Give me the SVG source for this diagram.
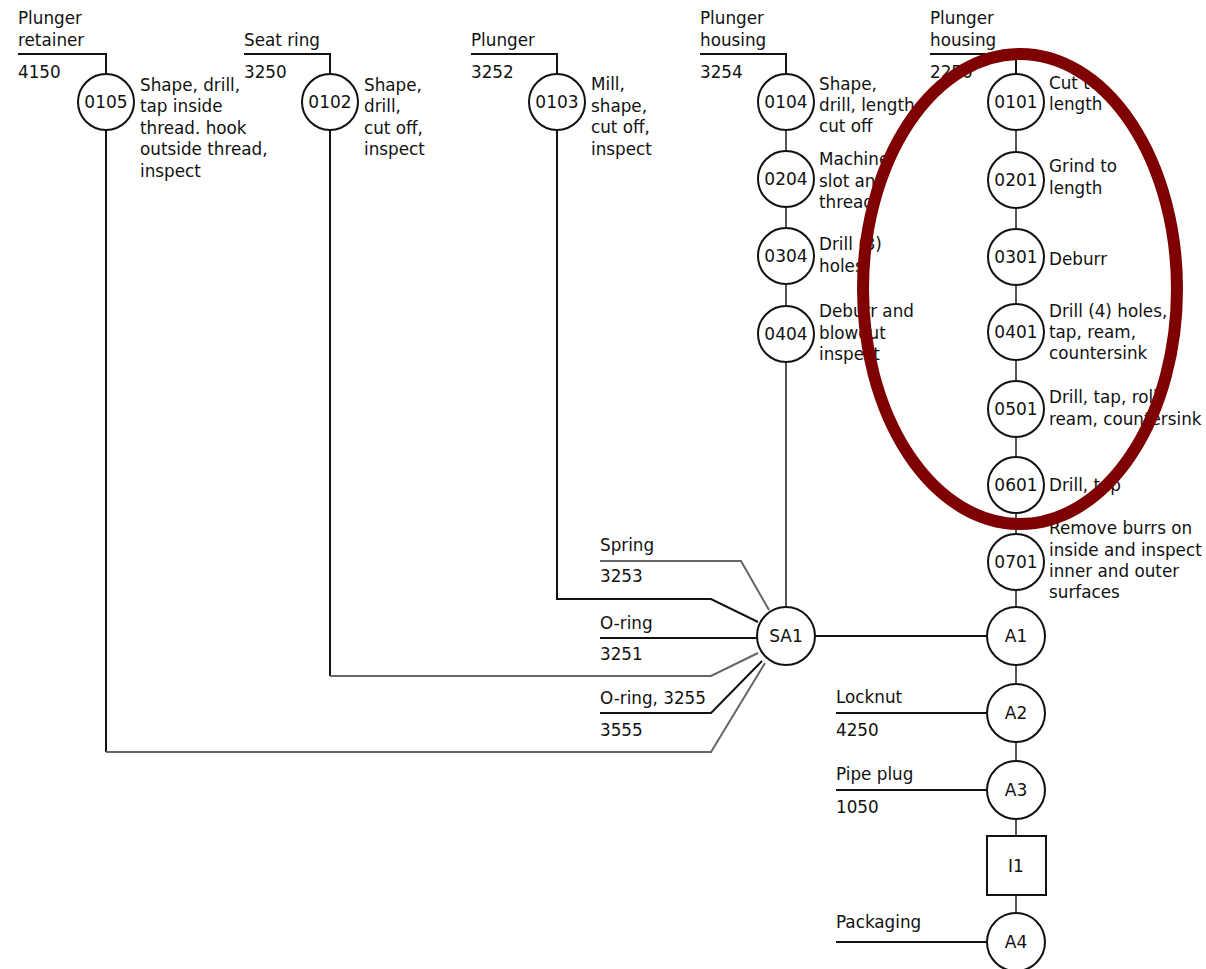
<svg xmlns="http://www.w3.org/2000/svg" width="1206" height="969" viewBox="0 0 1206 969">
<style>
text{font-family:"DejaVu Sans","Liberation Sans",sans-serif;font-size:16.8px;fill:#111}
.c{font-size:17px;text-anchor:middle}
.op{fill:#fff;stroke:#111;stroke-width:2}
.k{fill:none;stroke:#111;stroke-width:2}
.g{fill:none;stroke:#666;stroke-width:2}
.v{fill:none;stroke:#555;stroke-width:2}
</style>
<rect width="1206" height="969" fill="#fff"/>
<g id="connectors">
<polyline class="k" points="18,54 106,54 106,73"/>
<polyline class="k" points="244,54 330,54 330,73"/>
<polyline class="k" points="471,54 557,54 557,73"/>
<polyline class="k" points="700,54 786,54 786,73"/>
<polyline class="k" points="930,54 1016,54 1016,73"/>
<polyline class="k" points="106,130 106,752"/>
<polyline class="g" points="106,752 711,752 765,663"/>
<polyline class="k" points="330,130 330,676"/>
<polyline class="g" points="330,676 711,676 758,653"/>
<polyline class="k" points="557,130 557,599 711,599 758,622"/>
<polyline class="g" points="600,561 741,561 769,610"/>
<line class="k" x1="600" y1="638" x2="757" y2="638"/>
<polyline class="k" points="600,713 711,713 762,661"/>
<line class="v" x1="786" y1="130" x2="786" y2="150"/>
<line class="v" x1="786" y1="207" x2="786" y2="228"/>
<line class="v" x1="786" y1="285" x2="786" y2="305"/>
<line class="v" x1="786" y1="362" x2="786" y2="607"/>
<line class="k" x1="815" y1="636" x2="988" y2="636"/>
<line class="v" x1="1016" y1="130" x2="1016" y2="1000"/>
<line class="k" x1="836" y1="713" x2="988" y2="713"/>
<line class="k" x1="836" y1="790" x2="988" y2="790"/>
<line class="k" x1="836" y1="942" x2="988" y2="942"/>
</g>
<g id="in-retainer"><text x="18" y="24">Plunger</text><text x="18" y="46">retainer</text><text x="18" y="78">4150</text></g>
<g id="in-seatring"><text x="244" y="46">Seat ring</text><text x="244" y="78">3250</text></g>
<g id="in-plunger"><text x="471" y="46">Plunger</text><text x="471" y="78">3252</text></g>
<g id="in-housing1"><text x="700" y="24">Plunger</text><text x="700" y="46">housing</text><text x="700" y="78">3254</text></g>
<g id="in-housing2"><text x="930" y="24">Plunger</text><text x="930" y="46">housing</text><text x="930" y="78">2250</text></g>
<g id="n0105"><circle class="op" cx="106" cy="102" r="28"/><text class="c" x="106" y="108">0105</text>
<text x="140" y="91">Shape, drill,</text><text x="140" y="112">tap inside</text><text x="140" y="134">thread. hook</text><text x="140" y="155">outside thread,</text><text x="140" y="177">inspect</text></g>
<g id="n0102"><circle class="op" cx="330" cy="102" r="28"/><text class="c" x="330" y="108">0102</text>
<text x="364" y="91">Shape,</text><text x="364" y="112">drill,</text><text x="364" y="134">cut off,</text><text x="364" y="155">inspect</text></g>
<g id="n0103"><circle class="op" cx="557" cy="102" r="28"/><text class="c" x="557" y="108">0103</text>
<text x="591" y="90">Mill,</text><text x="591" y="112">shape,</text><text x="591" y="133">cut off,</text><text x="591" y="155">inspect</text></g>
<g id="n0104"><circle class="op" cx="786" cy="102" r="28"/><text class="c" x="786" y="108">0104</text>
<text x="819" y="90">Shape,</text><text x="819" y="111">drill, length</text><text x="819" y="132">cut off</text></g>
<g id="n0204"><circle class="op" cx="786" cy="179" r="28"/><text class="c" x="786" y="185">0204</text>
<text x="819" y="165">Machine</text><text x="819" y="187">slot and</text><text x="819" y="208">thread</text></g>
<g id="n0304"><circle class="op" cx="786" cy="256" r="28"/><text class="c" x="786" y="262">0304</text>
<text x="819" y="250">Drill (3)</text><text x="819" y="272">holes</text></g>
<g id="n0404"><circle class="op" cx="786" cy="334" r="28"/><text class="c" x="786" y="340">0404</text>
<text x="819" y="317">Deburr and</text><text x="819" y="339">blowout</text><text x="819" y="360">inspect</text></g>
<g id="n0101"><circle class="op" cx="1016" cy="102" r="28"/><text class="c" x="1016" y="108">0101</text>
<text x="1049" y="89">Cut to</text><text x="1049" y="110">length</text></g>
<g id="n0201"><circle class="op" cx="1016" cy="180" r="28"/><text class="c" x="1016" y="186">0201</text>
<text x="1049" y="172">Grind to</text><text x="1049" y="194">length</text></g>
<g id="n0301"><circle class="op" cx="1016" cy="257" r="28"/><text class="c" x="1016" y="263">0301</text>
<text x="1049" y="265">Deburr</text></g>
<g id="n0401"><circle class="op" cx="1016" cy="332" r="28"/><text class="c" x="1016" y="338">0401</text>
<text x="1049" y="317">Drill (4) holes,</text><text x="1049" y="338">tap, ream,</text><text x="1049" y="359">countersink</text></g>
<g id="n0501"><circle class="op" cx="1016" cy="409" r="28"/><text class="c" x="1016" y="415">0501</text>
<text x="1049" y="403">Drill, tap, roll</text><text x="1049" y="425">ream, countersink</text></g>
<g id="n0601"><circle class="op" cx="1016" cy="485" r="28"/><text class="c" x="1016" y="491">0601</text>
<text x="1049" y="491">Drill, tap</text></g>
<g id="n0701"><circle class="op" cx="1016" cy="562" r="28"/><text class="c" x="1016" y="568">0701</text>
<text x="1049" y="534">Remove burrs on</text><text x="1049" y="556">inside and inspect</text><text x="1049" y="577">inner and outer</text><text x="1049" y="598">surfaces</text></g>
<g id="nSA1"><circle class="op" cx="786" cy="636" r="29"/><text class="c" x="786" y="642">SA1</text></g>
<g id="in-spring"><text x="600" y="551">Spring</text><text x="600" y="582">3253</text></g>
<g id="in-oring1"><text x="600" y="629">O-ring</text><text x="600" y="660">3251</text></g>
<g id="in-oring2"><text x="600" y="704">O-ring, 3255</text><text x="600" y="736">3555</text></g>
<g id="nA1"><circle class="op" cx="1016" cy="636" r="29"/><text class="c" x="1016" y="642">A1</text></g>
<g id="nA2"><circle class="op" cx="1016" cy="713" r="29"/><text class="c" x="1016" y="719">A2</text></g>
<g id="in-locknut"><text x="836" y="703">Locknut</text><text x="836" y="736">4250</text></g>
<g id="nA3"><circle class="op" cx="1016" cy="790" r="29"/><text class="c" x="1016" y="796">A3</text></g>
<g id="in-pipeplug"><text x="836" y="780">Pipe plug</text><text x="836" y="813">1050</text></g>
<g id="nI1"><rect class="op" x="987" y="836" width="59" height="59"/><text class="c" x="1016" y="872">I1</text></g>
<g id="nA4"><circle class="op" cx="1016" cy="942" r="29"/><text class="c" x="1016" y="948">A4</text></g>
<g id="in-packaging"><text x="836" y="928">Packaging</text></g>
<g id="highlight"><ellipse cx="1020" cy="289" rx="157" ry="235" fill="none" stroke="#7f0000" stroke-width="12"/></g>
</svg>
